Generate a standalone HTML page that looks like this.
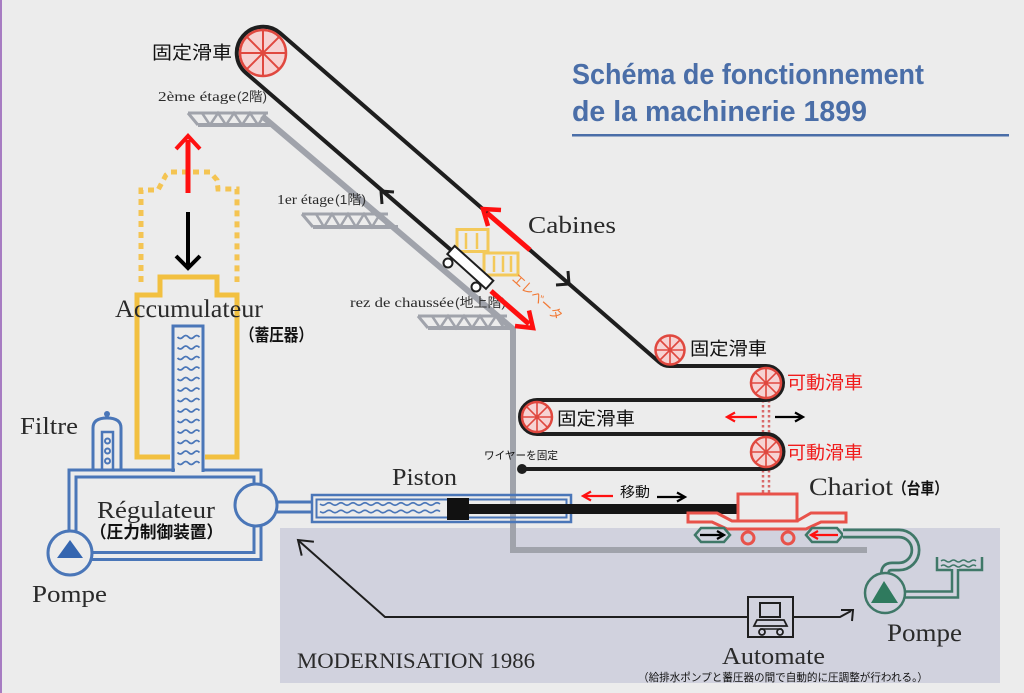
<!DOCTYPE html>
<html><head><meta charset="utf-8">
<style>
html,body{margin:0;padding:0;background:#ececec;}
svg{display:block;}
.s{font-family:"Liberation Serif",serif;fill:#2a2a2a;}
.j{font-family:"Liberation Sans","Noto Sans CJK JP",sans-serif;}
</style></head><body>
<svg width="1024" height="693" viewBox="0 0 1024 693" xmlns="http://www.w3.org/2000/svg">
<rect x="0" y="0" width="1024" height="693" fill="#ececec"/>
<rect x="0" y="0" width="2" height="693" fill="#a77cc2"/>

<!-- modernisation box -->
<rect x="280" y="528" width="720" height="155" fill="#d1d2de"/>

<!-- title -->
<text x="572" y="84" font-family="Liberation Sans, sans-serif" font-weight="bold" font-size="29" fill="#4a6ea8" textLength="352" lengthAdjust="spacingAndGlyphs">Schéma de fonctionnement</text>
<text x="572" y="121" font-family="Liberation Sans, sans-serif" font-weight="bold" font-size="29" fill="#4a6ea8" textLength="295" lengthAdjust="spacingAndGlyphs">de la machinerie 1899</text>
<rect x="572" y="134" width="437" height="2.5" fill="#4a6ea8"/>

<!-- grey tower structure -->
<g stroke="#a0a3ab" fill="none">
<polyline points="262,116 513,329 513,550 867,550" stroke-width="6"/>
<line x1="188" y1="113" x2="268" y2="113" stroke-width="3"/>
<line x1="198" y1="125" x2="272" y2="125" stroke-width="4"/>
<line x1="188" y1="113" x2="198" y2="125" stroke-width="3"/>
<polyline points="202,113 210,125 218,113 226,125 234,113 242,125 250,113 258,125 266,113" stroke-width="2.5"/>
<line x1="302" y1="214" x2="388" y2="214" stroke-width="3"/>
<line x1="313" y1="227" x2="398" y2="227" stroke-width="4"/>
<line x1="302" y1="214" x2="313" y2="227" stroke-width="3"/>
<polyline points="316,214 324,227 332,214 340,227 348,214 356,227 364,214 372,227 380,214 388,227" stroke-width="2.5"/>
<line x1="418" y1="316" x2="507" y2="316" stroke-width="3"/>
<line x1="428" y1="328" x2="513" y2="328" stroke-width="4"/>
<line x1="418" y1="316" x2="428" y2="328" stroke-width="3"/>
<polyline points="432,316 440,328 448,316 456,328 464,316 472,328 480,316 488,328 496,316 504,328" stroke-width="2.5"/>
</g>

<text class="s" x="158" y="101" font-size="14" textLength="78" lengthAdjust="spacingAndGlyphs">2ème étage</text>
<text class="j" x="237" y="101" font-size="13" fill="#333" textLength="30" lengthAdjust="spacingAndGlyphs">(2階)</text>
<text class="s" x="277" y="204" font-size="14" textLength="57" lengthAdjust="spacingAndGlyphs">1er étage</text>
<text class="j" x="335" y="204" font-size="13" fill="#333" textLength="31" lengthAdjust="spacingAndGlyphs">(1階)</text>
<text class="s" x="350" y="307" font-size="14" textLength="104" lengthAdjust="spacingAndGlyphs">rez de chaussée</text>
<text class="j" x="455" y="307" font-size="13" fill="#333" textLength="51" lengthAdjust="spacingAndGlyphs">(地上階)</text>

<!-- accumulator -->
<path d="M141 282 L141 190 L158 190 L166 175 L170 172 L210 172 L217 180 L218 189 L237 189 L237 282" fill="none" stroke="#f4c452" stroke-width="5" stroke-dasharray="6 5"/>
<path d="M170 457 L137 457 L137 295 L160 295 L160 277 L217 277 L217 295 L237 295 L237 457 L205 457" fill="none" stroke="#f2c040" stroke-width="5"/>

<line x1="188" y1="193" x2="188" y2="140" stroke="#ff1010" stroke-width="5"/>
<polyline points="176,149 188,136 200,149" fill="none" stroke="#ff1010" stroke-width="4"/>
<line x1="188" y1="212" x2="188" y2="265" stroke="#000" stroke-width="4"/>
<polyline points="176,256 188,268 200,256" fill="none" stroke="#000" stroke-width="4"/>

<!-- regulator loop -->
<rect x="72.5" y="473.5" width="185" height="82.5" fill="none" stroke="#4a76b8" stroke-width="10"/>
<rect x="72.5" y="473.5" width="185" height="82.5" fill="none" stroke="#ececec" stroke-width="4"/>
<rect x="175" y="466" width="27" height="6" fill="#ececec"/>
<path d="M173 472 L173 326 L203 326 L203 472" fill="none" stroke="#4a76b8" stroke-width="3"/>
<path d="M177.5 337 q2.75 3 5.5 0 t5.5 0 t5.5 0 t5.5 0 M177.5 347.5 q2.75 3 5.5 0 t5.5 0 t5.5 0 t5.5 0 M177.5 358 q2.75 3 5.5 0 t5.5 0 t5.5 0 t5.5 0 M177.5 368.5 q2.75 3 5.5 0 t5.5 0 t5.5 0 t5.5 0 M177.5 379 q2.75 3 5.5 0 t5.5 0 t5.5 0 t5.5 0 M177.5 389.5 q2.75 3 5.5 0 t5.5 0 t5.5 0 t5.5 0 M177.5 400 q2.75 3 5.5 0 t5.5 0 t5.5 0 t5.5 0 M177.5 410.5 q2.75 3 5.5 0 t5.5 0 t5.5 0 t5.5 0 M177.5 421 q2.75 3 5.5 0 t5.5 0 t5.5 0 t5.5 0 M177.5 431.5 q2.75 3 5.5 0 t5.5 0 t5.5 0 t5.5 0 M177.5 442 q2.75 3 5.5 0 t5.5 0 t5.5 0 t5.5 0 M177.5 452.5 q2.75 3 5.5 0 t5.5 0 t5.5 0 t5.5 0 M177.5 463 q2.75 3 5.5 0 t5.5 0 t5.5 0 t5.5 0" fill="none" stroke="#4a76b8" stroke-width="1.8"/>

<!-- filter -->
<path d="M93 470 L93 428 Q93 418 107 418 Q121 418 121 428 L121 470" fill="none" stroke="#4a76b8" stroke-width="3"/>
<circle cx="107" cy="414" r="3" fill="#4a76b8"/>
<rect x="102" y="432" width="11" height="38" fill="none" stroke="#4a76b8" stroke-width="2.5"/>
<circle cx="107.5" cy="441" r="2.5" fill="none" stroke="#4a76b8" stroke-width="2"/>
<circle cx="107.5" cy="451" r="2.5" fill="none" stroke="#4a76b8" stroke-width="2"/>
<circle cx="107.5" cy="461" r="2.5" fill="none" stroke="#4a76b8" stroke-width="2"/>

<!-- pump left -->
<circle cx="70" cy="553" r="22" fill="#ececec" stroke="#4a76b8" stroke-width="3"/>
<polygon points="70,540 57,558 83,558" fill="#3566b0"/>

<!-- valve and pipe -->
<line x1="274" y1="507" x2="313" y2="507" stroke="#4a76b8" stroke-width="13"/>
<line x1="278" y1="507" x2="313" y2="507" stroke="#ececec" stroke-width="7"/>
<circle cx="256" cy="505" r="21" fill="#ececec" stroke="#4a76b8" stroke-width="3"/>

<!-- piston -->
<rect x="312" y="495" width="259" height="27" fill="none" stroke="#4a76b8" stroke-width="2.5"/>
<rect x="316.5" y="499.5" width="250" height="18" fill="none" stroke="#4a76b8" stroke-width="2"/>
<path d="M320 504 q3 2.5 6 0 t6 0 t6 0 t6 0 t6 0 t6 0 t6 0 t6 0 t6 0 t6 0 t6 0 t6 0 t6 0 t6 0 t6 0 t6 0 t6 0 t6 0 t6 0 t6 0 M320 511.5 q3 2.5 6 0 t6 0 t6 0 t6 0 t6 0 t6 0 t6 0 t6 0 t6 0 t6 0 t6 0 t6 0 t6 0 t6 0 t6 0 t6 0 t6 0 t6 0 t6 0 t6 0" fill="none" stroke="#4a76b8" stroke-width="1.6"/>
<rect x="447" y="498" width="22" height="22" fill="#111"/>
<rect x="469" y="504" width="269" height="10" fill="#151515"/>

<!-- labels left -->
<text class="s" x="115" y="317" font-size="25" textLength="148" lengthAdjust="spacingAndGlyphs">Accumulateur</text>
<text class="j" x="240" y="341" font-size="17" font-weight="bold" fill="#111" textLength="73" lengthAdjust="spacingAndGlyphs">（蓄圧器）</text>
<text class="s" x="20" y="434" font-size="24" textLength="58" lengthAdjust="spacingAndGlyphs">Filtre</text>
<text class="s" x="97" y="518" font-size="24" textLength="118" lengthAdjust="spacingAndGlyphs">Régulateur</text>
<text class="j" x="90" y="538" font-size="17" font-weight="bold" fill="#111" textLength="133" lengthAdjust="spacingAndGlyphs">（圧力制御装置）</text>
<text class="s" x="32" y="602" font-size="24" textLength="75" lengthAdjust="spacingAndGlyphs">Pompe</text>
<text class="s" x="392" y="485" font-size="24" textLength="65" lengthAdjust="spacingAndGlyphs">Piston</text>
<text class="j" x="484" y="459" font-size="11" fill="#111" textLength="74" lengthAdjust="spacingAndGlyphs">ワイヤーを固定</text>

<!-- yellow cabins -->
<g stroke="#f3c95a" fill="none">
<rect x="457" y="229.5" width="31" height="22" stroke-width="3"/>
<line x1="466" y1="233" x2="466" y2="249" stroke-width="2.5"/>
<line x1="477" y1="233" x2="477" y2="249" stroke-width="2.5"/>
<rect x="484" y="253" width="34" height="22" stroke-width="3"/>
<line x1="494" y1="256" x2="494" y2="272" stroke-width="2.5"/>
<line x1="503" y1="256" x2="503" y2="272" stroke-width="2.5"/>
<line x1="511" y1="256" x2="511" y2="272" stroke-width="2.5"/>
</g>

<!-- dotted link -->
<line x1="763" y1="400" x2="763" y2="493" stroke="#d86a6a" stroke-width="2.5" stroke-dasharray="2.5 2.5"/>
<line x1="769" y1="400" x2="769" y2="493" stroke="#d86a6a" stroke-width="2.5" stroke-dasharray="2.5 2.5"/>

<!-- cable -->
<path d="M451 250 L246 73 A26 26 0 0 1 280 33 L659 362 A16 16 0 0 0 670 366 L766 366 A17 17 0 0 1 766 400 L537 400 A17 17 0 0 0 537 434 L766 434 A17.5 17.5 0 0 1 766 469 L522 469" fill="none" stroke="#1e1e1e" stroke-width="4"/>
<circle cx="522" cy="469" r="5" fill="#1e1e1e"/>

<!-- cable chevrons -->
<polyline points="394,192 381,191 382,204" fill="none" stroke="#1e1e1e" stroke-width="3"/>
<polyline points="556,285 569,284 568,271" fill="none" stroke="#1e1e1e" stroke-width="3"/>

<!-- cabin car -->
<g transform="translate(451,250) rotate(42)">
<rect x="0" y="-5.5" width="52" height="11" fill="#fff" stroke="#1e1e1e" stroke-width="2"/>
</g>
<circle cx="448" cy="263" r="4.5" fill="#fff" stroke="#1e1e1e" stroke-width="2"/>
<circle cx="476" cy="287" r="4.5" fill="#fff" stroke="#1e1e1e" stroke-width="2"/>

<!-- red arrows on cable -->
<line x1="491" y1="291" x2="529" y2="324" stroke="#ff1010" stroke-width="5"/>
<polyline points="529,310.5 533,328 515,326" fill="none" stroke="#ff1010" stroke-width="4.5"/>
<line x1="530" y1="250" x2="487" y2="213" stroke="#ff1010" stroke-width="5"/>
<polyline points="488,226 483,209 501,210" fill="none" stroke="#ff1010" stroke-width="4.5"/>

<text class="s" x="528" y="233" font-size="24" textLength="88" lengthAdjust="spacingAndGlyphs">Cabines</text>
<text class="j" transform="translate(511,280) rotate(42)" x="0" y="0" font-size="14" fill="#f27a36" textLength="62" lengthAdjust="spacingAndGlyphs">エレベータ</text>

<!-- pulleys -->
<g fill="#f6d3d3" stroke="#e0483f" stroke-width="2.5">
<circle cx="263" cy="53" r="23"/>
<circle cx="670" cy="350" r="14.5"/>
<circle cx="766" cy="383" r="15"/>
<circle cx="537" cy="417" r="15"/>
<circle cx="766" cy="452" r="15"/>
</g>
<g stroke="#e0483f" stroke-width="2">
<path d="M240 53 L286 53 M263 30 L263 76 M246.7 36.7 L279.3 69.3 M246.7 69.3 L279.3 36.7"/>
<path d="M655.5 350 L684.5 350 M670 335.5 L670 364.5 M659.75 339.75 L680.25 360.25 M659.75 360.25 L680.25 339.75" stroke-width="1.6"/>
<path d="M751 383 L781 383 M766 368 L766 398 M755.4 372.4 L776.6 393.6 M755.4 393.6 L776.6 372.4" stroke-width="1.6"/>
<path d="M522 417 L552 417 M537 402 L537 432 M526.4 406.4 L547.6 427.6 M526.4 427.6 L547.6 406.4" stroke-width="1.6"/>
<path d="M751 452 L781 452 M766 437 L766 467 M755.4 441.4 L776.6 462.6 M755.4 462.6 L776.6 441.4" stroke-width="1.6"/>
</g>

<text class="j" x="152" y="59" font-size="18" fill="#111" textLength="80" lengthAdjust="spacingAndGlyphs">固定滑車</text>
<text class="j" x="690" y="355" font-size="18" fill="#111" textLength="77" lengthAdjust="spacingAndGlyphs">固定滑車</text>
<text class="j" x="787" y="389" font-size="18" fill="#f01c1c" textLength="76" lengthAdjust="spacingAndGlyphs">可動滑車</text>
<text class="j" x="557" y="425" font-size="18" fill="#111" textLength="78" lengthAdjust="spacingAndGlyphs">固定滑車</text>
<text class="j" x="787" y="459" font-size="18" fill="#f01c1c" textLength="76" lengthAdjust="spacingAndGlyphs">可動滑車</text>

<!-- small arrows -->
<g fill="none" stroke-width="2.2">
<line x1="757" y1="417" x2="728" y2="417" stroke="#ff1010"/>
<polyline points="735,412.5 727,417 735,421.5" stroke="#ff1010"/>
<line x1="775" y1="417" x2="802" y2="417" stroke="#000"/>
<polyline points="795,412.5 803,417 795,421.5" stroke="#000"/>
<line x1="613" y1="496" x2="584" y2="496" stroke="#ff1010"/>
<polyline points="591,491.5 583,496 591,500.5" stroke="#ff1010"/>
<line x1="657" y1="497" x2="684" y2="497" stroke="#000"/>
<polyline points="677,492.5 685,497 677,501.5" stroke="#000"/>
</g>
<text class="j" x="620" y="497" font-size="14" fill="#111" textLength="30" lengthAdjust="spacingAndGlyphs">移動</text>

<!-- chariot -->
<g fill="none" stroke="#e8524a" stroke-width="3">
<path d="M688 513 L717 513 L732 521 L797 521 L811 513 L846 513 L846 522 L821 522 L806 529 L727 529 L712 522 L688 522 Z"/>
<rect x="738" y="494" width="59" height="27"/>
<circle cx="748" cy="538" r="6"/>
<circle cx="788" cy="538" r="6"/>
</g>
<text class="s" x="809" y="495" font-size="25" textLength="84" lengthAdjust="spacingAndGlyphs">Chariot</text>
<text class="j" x="893" y="494" font-size="16" font-weight="bold" fill="#111" textLength="55" lengthAdjust="spacingAndGlyphs">（台車）</text>

<!-- jacks -->
<g fill="none" stroke="#3f7868" stroke-width="2.5">
<polygon points="695,535 701,528 724,528 730,535 724,542 701,542"/>
<polygon points="806,535 812,528 837,528 843,535 837,542 812,542"/>
</g>
<g fill="none" stroke-width="2.2">
<line x1="700" y1="535" x2="723" y2="535" stroke="#000"/>
<polyline points="717,531 724,535 717,539" stroke="#000"/>
<line x1="838" y1="535" x2="812" y2="535" stroke="#ff1010"/>
<polyline points="818,531 811,535 818,539" stroke="#ff1010"/>
</g>

<!-- green tube and pump -->
<path d="M843 533.5 L899 533.5 A16.5 16.5 0 0 1 899 566.5 L892 566.5 Q885 566.5 885 573 L885 576" fill="none" stroke="#3f7868" stroke-width="10"/>
<path d="M843 533.5 L899 533.5 A16.5 16.5 0 0 1 899 566.5 L892 566.5 Q885 566.5 885 573 L885 576" fill="none" stroke="#d1d2de" stroke-width="4.5"/>
<path d="M903 594.5 L955 594.5 L955 569" fill="none" stroke="#3f7868" stroke-width="8.5"/>
<path d="M903 594.5 L955 594.5 L955 569" fill="none" stroke="#d1d2de" stroke-width="3.5"/>
<path d="M937 557 L937 570 L951 570 M959 570 L982 570 L982 557" fill="none" stroke="#3f7868" stroke-width="2.5"/>
<path d="M941 561 q2.5 -2 5 0 t5 0 t5 0 t5 0 t5 0 t5 0 t5 0 M941 566 q2.5 -2 5 0 t5 0 t5 0 t5 0 t5 0 t5 0 t5 0" fill="none" stroke="#3f7868" stroke-width="1.5"/>
<circle cx="885" cy="593" r="20" fill="#d1d2de" stroke="#3f7868" stroke-width="2.5"/>
<polygon points="884,581 871,603 898,603" fill="#2f7a5e"/>
<text class="s" x="887" y="641" font-size="25" textLength="75" lengthAdjust="spacingAndGlyphs">Pompe</text>

<!-- modernisation arrows -->
<path d="M748 617 L385 617 L299 541" fill="none" stroke="#1e1e1e" stroke-width="2"/>
<polyline points="301.7,555.6 298,540 313.9,541.8" fill="none" stroke="#1e1e1e" stroke-width="2"/>
<path d="M793 617 L840 617 L851 611" fill="none" stroke="#1e1e1e" stroke-width="2"/>
<polyline points="841,610 853,610 852,621" fill="none" stroke="#1e1e1e" stroke-width="2"/>

<!-- automate -->
<rect x="748" y="597" width="45" height="40" fill="#d1d2de" stroke="#1e1e1e" stroke-width="2"/>
<rect x="760" y="603" width="20" height="14" fill="none" stroke="#1e1e1e" stroke-width="2"/>
<path d="M757 620 L784 620 L787 626 L754 626 Z" fill="none" stroke="#1e1e1e" stroke-width="1.8"/>
<line x1="760" y1="629" x2="782" y2="629" stroke="#1e1e1e" stroke-width="1.5"/>
<circle cx="762" cy="632" r="3" fill="none" stroke="#1e1e1e" stroke-width="1.8"/>
<circle cx="780" cy="632" r="3" fill="none" stroke="#1e1e1e" stroke-width="1.8"/>

<text class="s" x="297" y="668" font-size="22" textLength="238" lengthAdjust="spacingAndGlyphs">MODERNISATION 1986</text>
<text class="s" x="722" y="664" font-size="24" textLength="103" lengthAdjust="spacingAndGlyphs">Automate</text>
<text class="j" x="638" y="681" font-size="11" fill="#111" textLength="290" lengthAdjust="spacingAndGlyphs">（給排水ポンプと蓄圧器の間で自動的に圧調整が行われる。）</text>
</svg>
</body></html>
